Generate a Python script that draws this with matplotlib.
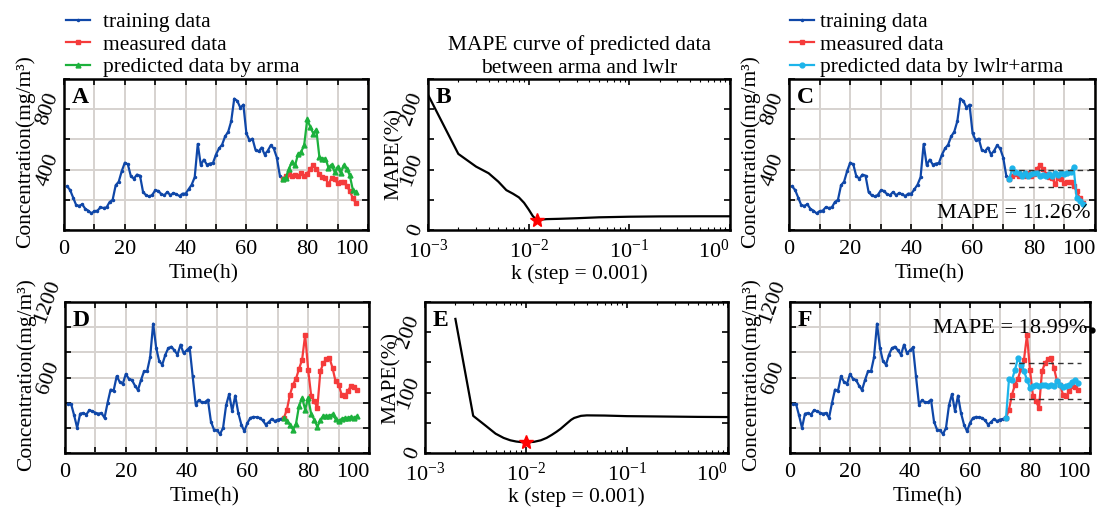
import numpy as np
import matplotlib
matplotlib.use("Agg")
import matplotlib.pyplot as plt

plt.rcParams['font.family'] = ['Liberation Serif', 'DejaVu Serif']
plt.rcParams['mathtext.fontset'] = 'stix'

# ---- data ----
hours_train = np.arange(1, 73)
hours_test = np.arange(72, 97)

train_top = [290, 265, 215, 165, 160, 170, 140, 128, 110, 125, 128, 150, 146, 150, 185, 200,
             296, 320, 390, 446, 435, 356, 340, 367, 360, 252, 230, 222, 232, 262, 259, 238,
             230, 252, 230, 245, 236, 225, 241, 241, 270, 300, 350, 570, 430, 466, 433, 440,
             444, 500, 540, 565, 620, 650, 720, 870, 855, 810, 830, 640, 595, 605, 530, 520,
             546, 500, 524, 560, 540, 480, 360, 340]
measured_top = [340, 356, 369, 360, 367, 357, 378, 356, 372, 405, 429, 402, 374, 350, 343, 303,
                345, 335, 310, 318, 318, 290, 260, 210, 179]
arma_top = [340, 347, 407, 451, 429, 502, 517, 561, 732, 683, 639, 665, 484, 473, 473, 413,
            433, 385, 418, 378, 429, 407, 362, 267, 252]
lwlr_top = [340, 408, 386, 375, 355, 375, 360, 370, 375, 380, 355, 365, 355, 370, 355, 375,
            365, 375, 370, 375, 385, 420, 210, 190, 172]

train_bot = [390, 390, 300, 200, 313, 318, 305, 340, 332, 320, 313, 318, 279, 398, 504, 496,
             610, 565, 549, 628, 590, 580, 536, 500, 580, 649, 649, 760, 1028, 834, 729, 702,
             781, 834, 845, 815, 781, 861, 794, 815, 839, 609, 385, 420, 403, 403, 424, 250,
             186, 181, 150, 200, 380, 469, 332, 456, 318, 226, 173, 239, 279, 287, 284, 279,
             260, 226, 245, 271, 253, 266, 271, 279]
measured_bot = [279, 345, 464, 543, 591, 670, 742, 940, 657, 451, 411, 358, 649, 715, 747, 755,
                676, 570, 543, 464, 451, 491, 530, 525, 504]
arma_bot = [279, 253, 226, 186, 234, 377, 438, 345, 438, 306, 266, 208, 260, 298, 292, 298,
            306, 271, 253, 271, 279, 279, 287, 279, 292]
lwlr_bot = [279, 588, 583, 662, 755, 702, 649, 583, 517, 530, 543, 535, 543, 543, 535, 543,
            530, 570, 543, 525, 535, 543, 562, 583, 556]

# MAPE vs k curves
k_b = [0.001, 0.002, 0.003, 0.004, 0.005, 0.006, 0.007, 0.008, 0.009, 0.010, 0.011, 0.012,
       0.013, 0.015, 0.02, 0.03, 0.05, 0.1, 0.2, 0.5, 1.0]
mape_b = [224, 126, 105, 94, 80, 66, 60, 54, 45, 34, 23, 16.6, 17, 18, 18.5, 19.5, 21, 22,
          22.5, 22.7, 22.7]
best_b = (0.012, 16.6)

k_e = [0.002, 0.003, 0.004, 0.005, 0.006, 0.007, 0.008, 0.009, 0.010, 0.012, 0.014, 0.016,
       0.018, 0.020, 0.022, 0.025, 0.028, 0.030, 0.035, 0.04, 0.06, 0.1, 0.2, 0.5, 1.0]
mape_e = [222, 61.5, 45, 32, 25, 21, 19, 18, 17.5, 18.5, 21, 25, 30, 35, 40, 48, 55, 58, 61.5,
          62.3, 62, 61, 60.5, 59.8, 59.5]
best_e = (0.010, 17.5)

band_top = {'upper': (400, 72, 98), 'lower': (285, 72, 92)}
band_bot = {'upper': (715, 73, 97), 'lower': (432, 73, 97)}

BLUE = '#0f47a8'
RED = '#f53b3b'
GREEN = '#1cb13c'
CYAN = '#1db4ea'

W, H = 1107, 516
fig = plt.figure(figsize=(W / 100, H / 100), dpi=100)


def add_ax(left, top, right, bottom):
    return fig.add_axes([left / W, 1 - bottom / H, (right - left) / W, (bottom - top) / H])


def style_axes(ax):
    for s in ax.spines.values():
        s.set_linewidth(1.8)
    ax.tick_params(direction='in', top=True, right=True, length=4, width=1.2,
                   labelsize=16, pad=7)
    ax.tick_params(axis='y', pad=1)
    for lab in ax.get_yticklabels():
        lab.set_rotation(70)
        lab.set_va('center')
    # last x label sits flush with the right spine, as in the original
    ax.get_xticklabels()[-1].set_ha('right')


def conc_panel(ax, letter, train, measured, pred, pred_color, pred_marker, ymax, ylabels):
    ax.plot(hours_train, train, color=BLUE, lw=1.6, marker='.', ms=3)
    ax.plot(hours_test, measured, color=RED, lw=1.6, marker='s', ms=2.5)
    ax.plot(hours_test, pred, color=pred_color, lw=1.6, marker=pred_marker, ms=3.5)
    ax.set_xlim(0, 100)
    ax.set_ylim(0, ymax)
    ax.set_xticks(range(0, 101, 10))
    ax.set_xticklabels([str(v) if v % 20 == 0 else '' for v in range(0, 101, 10)])
    yt = list(range(0, ymax + 1, 200))
    ax.set_yticks(yt)
    ax.set_yticklabels([str(v) if v in ylabels else '' for v in yt])
    ax.grid(True, color='#d6d2cf', lw=1.4)
    ax.set_axisbelow(True)
    ax.text(0.025, 0.95, letter, transform=ax.transAxes, fontsize=17, fontweight='bold',
            ha='left', va='top')
    ax.set_ylabel('Concentration(mg/m³)', fontsize=15.5)
    ax.yaxis.set_label_coords(-0.095, 0.52)
    ax.set_xlabel('Time(h)', fontsize=15.5)
    ax.xaxis.set_label_coords(0.46, -0.23)
    style_axes(ax)


def mape_panel(ax, letter, k, mape, best):
    ax.plot(k, mape, color='black', lw=1.6)
    ax.plot([best[0]], [best[1]], marker='*', color='red', ms=10, ls='none')
    ax.set_xscale('log')
    ax.set_xlim(1e-3, 1)
    ax.set_ylim(0, 250)
    ax.set_xticks([1e-3, 1e-2, 1e-1, 1])
    ax.set_yticks(range(0, 251, 50))
    ax.set_yticklabels([str(v) if v % 100 == 0 else '' for v in range(0, 251, 50)])
    ax.text(0.025, 0.95, letter, transform=ax.transAxes, fontsize=17, fontweight='bold',
            ha='left', va='top')
    ax.set_ylabel('MAPE(%)', fontsize=15.5)
    ax.yaxis.set_label_coords(-0.08, 0.5)
    ax.set_xlabel('k (step = 0.001)', fontsize=15.5)
    ax.xaxis.set_label_coords(0.5, -0.23)
    style_axes(ax)
    ax.tick_params(which='minor', direction='in', top=True, length=2.5, width=0.8)


def bands(ax, band):
    for val, x0, x1 in band.values():
        ax.plot([x0, x1], [val, val], color='0.2', lw=1.0, ls=(0, (4, 3)))


axA = add_ax(64, 79, 368, 230)
axB = add_ax(428, 79, 730, 230)
axC = add_ax(789, 79, 1095, 230)
axD = add_ax(65, 302, 369, 453)
axE = add_ax(425, 302, 728, 453)
axF = add_ax(790, 302, 1090, 453)

conc_panel(axA, 'A', train_top, measured_top, arma_top, GREEN, '^', 1000, [400, 800])
conc_panel(axC, 'C', train_top, measured_top, lwlr_top, CYAN, 'o', 1000, [400, 800])
conc_panel(axD, 'D', train_bot, measured_bot, arma_bot, GREEN, '^', 1200, [600, 1200])
conc_panel(axF, 'F', train_bot, measured_bot, lwlr_bot, CYAN, 'o', 1200, [600, 1200])
bands(axC, band_top)
bands(axF, band_bot)

axC.text(98.5, 112, 'MAPE = 11.26%', fontsize=16, ha='right', va='center')
axF.text(99, 990, 'MAPE = 18.99%', fontsize=16, ha='right', va='center')
axF.plot([100.5], [975], marker='o', color='black', ms=3.5, clip_on=False)

mape_panel(axB, 'B', k_b, mape_b, best_b)
mape_panel(axE, 'E', k_e, mape_e, best_e)
axB.set_title('MAPE curve of predicted data\nbetween arma and lwlr', fontsize=15.5,
              pad=4, linespacing=1.3)

# legends above A and C
leg_labels_a = ['training data', 'measured data', 'predicted data by arma']
leg_labels_c = ['training data', 'measured data', 'predicted data by lwlr+arma']
hA = axA.get_lines()[:3]
hC = axC.get_lines()[:3]
fig.legend(hA, leg_labels_a, loc='upper left', bbox_to_anchor=(66 / W, 1 - 12 / H),
           frameon=False, fontsize=15.5, handlelength=1.1, handletextpad=0.6,
           labelspacing=0.12, borderpad=0, borderaxespad=0)
fig.legend(hC, leg_labels_c, loc='upper left', bbox_to_anchor=(790 / W, 1 - 12 / H),
           frameon=False, fontsize=15.5, handlelength=1.1, handletextpad=0.3,
           labelspacing=0.12, borderpad=0, borderaxespad=0)

fig.savefig('out.png', dpi=100)
